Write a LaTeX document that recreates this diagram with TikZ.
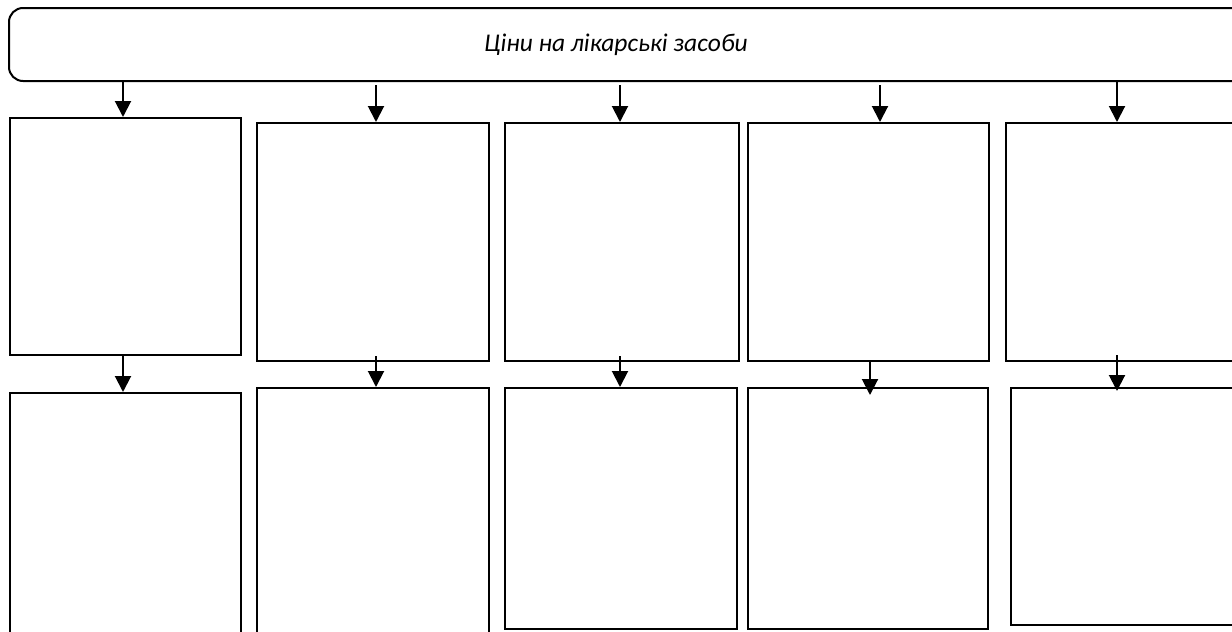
\documentclass[tikz,border=0pt]{standalone}
\usepackage{fontspec}
\setmainfont{Carlito}
\usetikzlibrary{arrows.meta}
\begin{document}
\begin{tikzpicture}[x=1pt,y=-1pt,
  box/.style={draw,line width=2pt,inner sep=0pt,anchor=north west},
  arr/.style={line width=2pt,-{Triangle[length=16pt,width=16pt]}},
  lab/.style={font=\fontsize{25.5}{30}\selectfont\itshape}]
\useasboundingbox (0,0) rectangle (1232,632);
% top rounded box
\node[box, rounded corners=14pt, minimum width=1240pt, minimum height=73pt] (top) at (8,7) {};
\node[lab] (lbl) at (616,45) {Ціни на лікарські засоби};
% top row
\node[box, minimum width=231pt, minimum height=237pt] (t1) at (9,117) {};
\node[box, minimum width=232pt, minimum height=238pt] (t2) at (256,122) {};
\node[box, minimum width=234pt, minimum height=238pt] (t3) at (504,122) {};
\node[box, minimum width=241pt, minimum height=238pt] (t4) at (747,122) {};
\node[box, minimum width=240pt, minimum height=238pt] (t5) at (1005,122) {};
% bottom row
\node[box, minimum width=231pt, minimum height=260pt] (b1) at (9,392) {};
\node[box, minimum width=232pt, minimum height=245pt] (b2) at (256,387) {};
\node[box, minimum width=232pt, minimum height=241pt] (b3) at (504,387) {};
\node[box, minimum width=240pt, minimum height=241pt] (b4) at (747,387) {};
\node[box, minimum width=240pt, minimum height=237pt] (b5) at (1010,387) {};
% arrow start points
\coordinate (a1) at (123,80);
\coordinate (a2) at (376,85);
\coordinate (a3) at (620,85);
\coordinate (a4) at (880,85);
\coordinate (a5) at (1117,80);
\coordinate (m1) at (123,354);
\coordinate (m2) at (376,356);
\coordinate (m3) at (620,356);
\coordinate (m4) at (870,360);
\coordinate (m4e) at (870,395);
\coordinate (m5) at (1117,355);
\coordinate (m5e) at (1117,391);
% arrows top -> top row
\draw[arr] (a1) -- (a1 |- t1.north);
\draw[arr] (a2) -- (a2 |- t2.north);
\draw[arr] (a3) -- (a3 |- t3.north);
\draw[arr] (a4) -- (a4 |- t4.north);
\draw[arr] (a5) -- (a5 |- t5.north);
% arrows top row -> bottom row
\draw[arr] (m1) -- (m1 |- b1.north);
\draw[arr] (m2) -- (m2 |- b2.north);
\draw[arr] (m3) -- (m3 |- b3.north);
\draw[arr] (m4) -- (m4e);
\draw[arr] (m5) -- (m5e);
\end{tikzpicture}
\end{document}
